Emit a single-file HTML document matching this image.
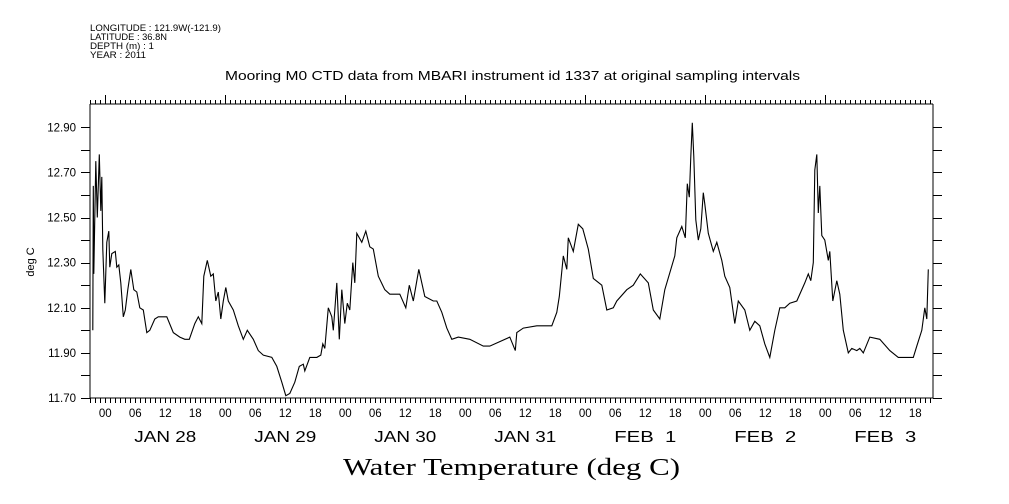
<!DOCTYPE html>
<html><head><meta charset="utf-8"><style>
html,body{margin:0;padding:0;background:#fff;width:1009px;height:504px;overflow:hidden}
svg{display:block}
text{font-family:"Liberation Sans",sans-serif;fill:#000}
</style></head><body>
<svg id="chart" width="1009" height="504" viewBox="0 0 1009 504" xmlns="http://www.w3.org/2000/svg">
<g>
<text x="90" y="31" font-size="9" textLength="131" lengthAdjust="spacingAndGlyphs">LONGITUDE : 121.9W(-121.9)</text>
<text x="90" y="40" font-size="9" textLength="77" lengthAdjust="spacingAndGlyphs">LATITUDE : 36.8N</text>
<text x="90" y="49" font-size="9" textLength="64" lengthAdjust="spacingAndGlyphs">DEPTH (m) : 1</text>
<text x="90" y="58" font-size="9" textLength="56" lengthAdjust="spacingAndGlyphs">YEAR : 2011</text>
</g>
<text x="225" y="80" font-size="13" textLength="575" lengthAdjust="spacingAndGlyphs">Mooring M0 CTD data from MBARI instrument id 1337 at original sampling intervals</text>
<text transform="translate(34,262) rotate(-90)" text-anchor="middle" font-size="11">deg C</text>
<text x="343" y="475" font-size="24" textLength="337" lengthAdjust="spacingAndGlyphs" style="font-family:'Liberation Serif',serif">Water Temperature (deg C)</text>
<g id="axes"></g>
<path id="series" fill="none" stroke="#000" stroke-width="1.1"/>
</svg>
<script>
const hours=[-2.5,-2.4,-2.3,-1.9,-1.6,-1.2,-0.9,-0.7,-0.5,-0.1,0.3,0.7,0.9,1.3,2.0,2.3,2.7,3.1,3.6,4.0,4.5,5.1,5.7,6.3,6.9,7.6,8.3,8.9,9.9,10.6,12.3,13.6,14.9,15.9,16.8,17.9,18.6,19.3,19.7,20.4,21.1,21.6,22.1,22.6,23.1,23.6,24.1,24.6,25.6,26.6,27.6,28.4,29.6,30.6,31.6,33.3,34.3,35.3,36.1,36.9,37.9,38.8,39.6,39.9,40.9,42.3,43.1,43.5,43.9,44.6,45.3,45.6,46.3,46.8,47.3,47.9,48.4,48.9,49.5,49.9,50.3,51.3,52.1,52.9,53.6,54.6,55.9,56.9,58.9,60.1,60.8,61.6,62.7,63.9,65.6,66.3,67.3,68.3,69.3,70.6,72.9,75.6,76.9,78.9,80.9,82.0,82.3,83.6,86.3,89.3,90.3,90.8,91.6,92.3,92.6,93.6,94.6,95.5,96.6,97.6,99.3,100.3,101.6,102.3,104.3,105.6,107.0,108.6,109.6,110.9,111.9,113.9,114.3,115.3,116.0,116.4,116.8,117.1,117.4,117.7,118.1,118.6,119.1,119.6,119.9,120.6,121.6,122.3,123.3,123.9,124.9,125.9,126.6,127.9,128.9,129.9,130.9,131.9,132.9,133.9,134.9,135.9,136.9,138.3,139.9,140.6,141.1,141.6,141.9,142.3,142.6,142.9,143.3,143.9,144.6,144.9,145.5,146.3,146.9,147.6,148.6,149.3,150.3,150.9,151.6,152.9,154.9,156.9,158.6,161.6,162.3,163.3,163.9,164.3,164.6];
const temps=[12.00,12.64,12.25,12.75,12.50,12.78,12.53,12.68,12.36,12.12,12.39,12.44,12.28,12.34,12.35,12.28,12.29,12.21,12.06,12.09,12.18,12.27,12.18,12.17,12.10,12.09,11.99,12.00,12.05,12.06,12.06,11.99,11.97,11.96,11.96,12.03,12.06,12.03,12.24,12.31,12.24,12.25,12.13,12.17,12.05,12.13,12.19,12.13,12.09,12.02,11.96,12.00,11.96,11.91,11.89,11.88,11.84,11.77,11.71,11.72,11.77,11.84,11.85,11.82,11.88,11.88,11.89,11.94,11.92,12.10,12.06,12.00,12.21,11.96,12.18,12.03,12.12,12.09,12.30,12.21,12.43,12.39,12.44,12.37,12.36,12.24,12.18,12.16,12.16,12.10,12.20,12.13,12.27,12.15,12.13,12.13,12.08,12.01,11.96,11.97,11.96,11.93,11.93,11.95,11.97,11.91,11.99,12.01,12.02,12.02,12.08,12.15,12.33,12.27,12.41,12.35,12.47,12.45,12.36,12.23,12.20,12.09,12.10,12.13,12.18,12.20,12.25,12.21,12.09,12.05,12.18,12.33,12.41,12.46,12.41,12.65,12.59,12.77,12.92,12.77,12.49,12.40,12.45,12.61,12.56,12.43,12.35,12.39,12.31,12.24,12.19,12.03,12.13,12.09,12.00,12.04,12.02,11.94,11.88,12.00,12.10,12.10,12.12,12.13,12.21,12.25,12.22,12.30,12.71,12.78,12.52,12.64,12.42,12.40,12.31,12.35,12.13,12.22,12.16,12.00,11.90,11.92,11.91,11.92,11.90,11.97,11.96,11.91,11.88,11.88,11.93,12.00,12.10,12.05,12.27];
const yTicks=[11.70,11.90,12.10,12.30,12.50,12.70,12.90];
const hourLabels=["00","06","12","18"];
const dayLabels=["JAN 28","JAN 29","JAN 30","JAN 31","FEB  1","FEB  2","FEB  3"];

const L=90,R=933,T=104,B=398,X0=105.3,PXH=5,YMIN=11.70,PXD=225.6;
const xs=h=>X0+h*PXH;
const ys=v=>B-(v-YMIN)*PXD;
const NS="http://www.w3.org/2000/svg";
const axes=document.getElementById('axes');
let d="";
function line(x1,y1,x2,y2){d+="M"+x1+" "+y1+"L"+x2+" "+y2;}
line(L,T,R,T);line(L,B,R,B);line(L,T,L,B);line(R,T,R,B);
const hMin=Math.ceil((L-X0)/PXH), hMax=Math.floor((R-X0)/PXH);
for(let h=hMin;h<=hMax;h++){
  const x=Math.round(xs(h))+0.5;
  const major=((h%24)+24)%24===0;
  line(x,T,x,T-(major?9:4));
  line(x,B,x,B+5);
  if(h%6===0){
    const t=document.createElementNS(NS,'text');
    
    
    t.setAttribute('x',xs(h));t.setAttribute('y',417);
    t.setAttribute('text-anchor','middle');t.setAttribute('font-size','11.5');
    t.textContent=hourLabels[(((h/6)%4)+4)%4];
    axes.appendChild(t);
  }
}
dayLabels.forEach((lab,i)=>{
  const t=document.createElementNS(NS,'text');
  
  
  t.setAttribute('x',xs(i*24+12)-31);t.setAttribute('y',442);
  t.setAttribute('font-size','16');
  t.setAttribute('textLength','62');t.setAttribute('lengthAdjust','spacingAndGlyphs');
  t.setAttribute('xml:space','preserve');t.style.whiteSpace='pre';
  t.textContent=lab;
  axes.appendChild(t);
});
for(let k=0;k<=12;k++){
  const v=YMIN+k*0.1, y=Math.round(ys(v))+0.5;
  line(L-9,y,L,y);line(R,y,R+9,y);
}
yTicks.forEach(v=>{
  const t=document.createElementNS(NS,'text');
  
  
  t.setAttribute('x',76);t.setAttribute('y',ys(v)+4);
  t.setAttribute('text-anchor','end');t.setAttribute('font-size','11.5');
  t.textContent=v.toFixed(2);
  axes.appendChild(t);
});
const p=document.createElementNS(NS,'path');


p.setAttribute('d',d);p.setAttribute('stroke','#000');p.setAttribute('stroke-width','1');p.setAttribute('fill','none');
axes.appendChild(p);
let sd="";
hours.forEach((h,i)=>{sd+=(i?"L":"M")+xs(h).toFixed(1)+" "+ys(temps[i]).toFixed(1);});
document.getElementById('series').setAttribute('d',sd);
</script>
</body></html>
